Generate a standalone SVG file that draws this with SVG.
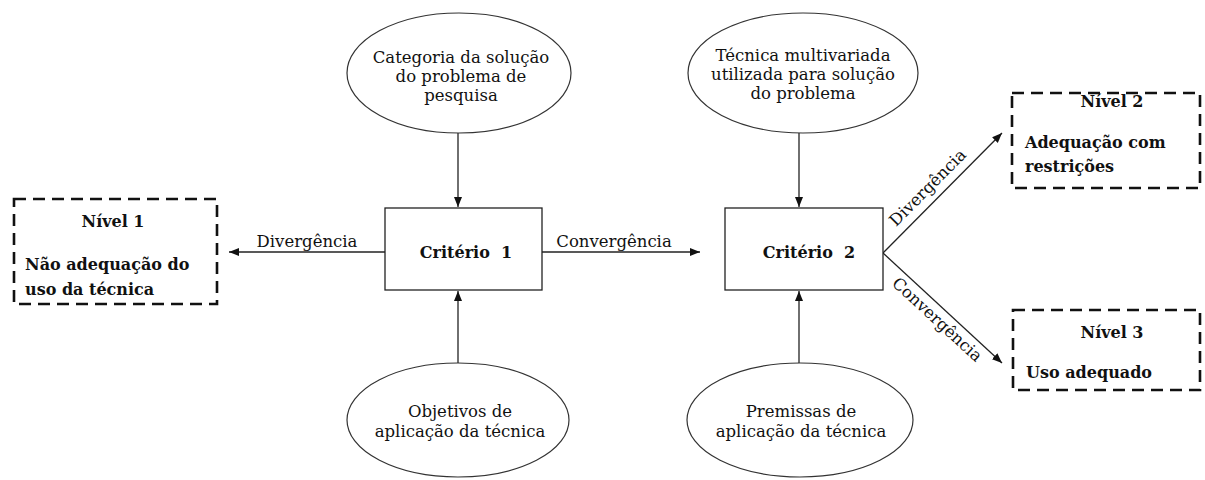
<svg xmlns="http://www.w3.org/2000/svg" width="1205" height="480" viewBox="0 0 1205 480">
<style>
.bg{fill:#fff}
.ell{fill:#fff;stroke:#333;stroke-width:1.2}
.box{fill:#fff;stroke:#222;stroke-width:1.3}
.dash{fill:#fff;stroke:#111;stroke-width:2.6;stroke-dasharray:12 7}
.ln{stroke:#222;stroke-width:1.3;fill:none;marker-end:url(#ah)}
.t{font-family:"DejaVu Serif","Liberation Serif",serif;font-size:16.5px;fill:#111;text-anchor:middle}
.b{font-family:"DejaVu Serif","Liberation Serif",serif;font-size:16px;font-weight:bold;fill:#111}
.c{text-anchor:middle}
</style>
<defs>
<marker id="ah" viewBox="0 0 10 10" refX="10" refY="5" markerWidth="10" markerHeight="10" markerUnits="userSpaceOnUse" orient="auto">
<path d="M0,1 L10,5 L0,9 Z" fill="#111"/>
</marker>
</defs>
<rect class="bg" x="0" y="0" width="1205" height="480"/>
<g id="connectors">
<line class="ln" x1="458" y1="133" x2="458" y2="207"/>
<line class="ln" x1="799" y1="133" x2="799" y2="207"/>
<line class="ln" x1="458" y1="363" x2="458" y2="291"/>
<line class="ln" x1="799" y1="363" x2="799" y2="291"/>
<line class="ln" x1="385" y1="252" x2="229" y2="252"/>
<line class="ln" x1="542" y1="252" x2="700" y2="252"/>
<line class="ln" x1="883" y1="253" x2="1002" y2="133"/>
<line class="ln" x1="883" y1="253" x2="1002" y2="363"/>
<text class="t" x="307" y="247">Divergência</text>
<text class="t" x="614" y="247">Convergência</text>
<text class="t" transform="translate(931.6,191.5) rotate(-45.2)">Divergência</text>
<text class="t" transform="translate(933.5,323.6) rotate(42.7)">Convergência</text>
</g>
<g id="cat">
<ellipse class="ell" cx="459" cy="73" rx="112" ry="60"/>
<text class="t" x="461" y="63">Categoria da solução</text>
<text class="t" x="461" y="82">do problema de</text>
<text class="t" x="461" y="101">pesquisa</text>
</g>
<g id="tec">
<ellipse class="ell" cx="803" cy="73" rx="115" ry="60"/>
<text class="t" x="803" y="61">Técnica multivariada</text>
<text class="t" x="803" y="80">utilizada para solução</text>
<text class="t" x="803" y="99">do problema</text>
</g>
<g id="obj">
<ellipse class="ell" cx="458" cy="420" rx="111" ry="57"/>
<text class="t" x="460" y="417">Objetivos de</text>
<text class="t" x="460" y="437">aplicação da técnica</text>
</g>
<g id="pre">
<ellipse class="ell" cx="800" cy="420" rx="113" ry="57"/>
<text class="t" x="801" y="417">Premissas de</text>
<text class="t" x="801" y="437">aplicação da técnica</text>
</g>
<g id="crit1">
<rect class="box" x="385" y="208" width="157" height="82"/>
<text class="b c" x="466" y="258" xml:space="preserve">Critério  1</text>
</g>
<g id="crit2">
<rect class="box" x="725" y="208" width="158" height="82"/>
<text class="b c" x="809" y="258" xml:space="preserve">Critério  2</text>
</g>
<g id="nivel1">
<rect class="dash" x="14" y="199" width="203" height="105"/>
<text class="b c" x="113" y="227">Nível 1</text>
<text class="b" x="25" y="270">Não adequação do</text>
<text class="b" x="25" y="295">uso da técnica</text>
</g>
<g id="nivel2">
<rect class="dash" x="1012" y="93" width="188" height="95"/>
<text class="b c" x="1112" y="107">Nível 2</text>
<text class="b" x="1025" y="148">Adequação com</text>
<text class="b" x="1025" y="172">restrições</text>
</g>
<g id="nivel3">
<rect class="dash" x="1013" y="310" width="187" height="80"/>
<text class="b c" x="1112" y="338">Nível 3</text>
<text class="b" x="1026" y="378">Uso adequado</text>
</g>
</svg>
